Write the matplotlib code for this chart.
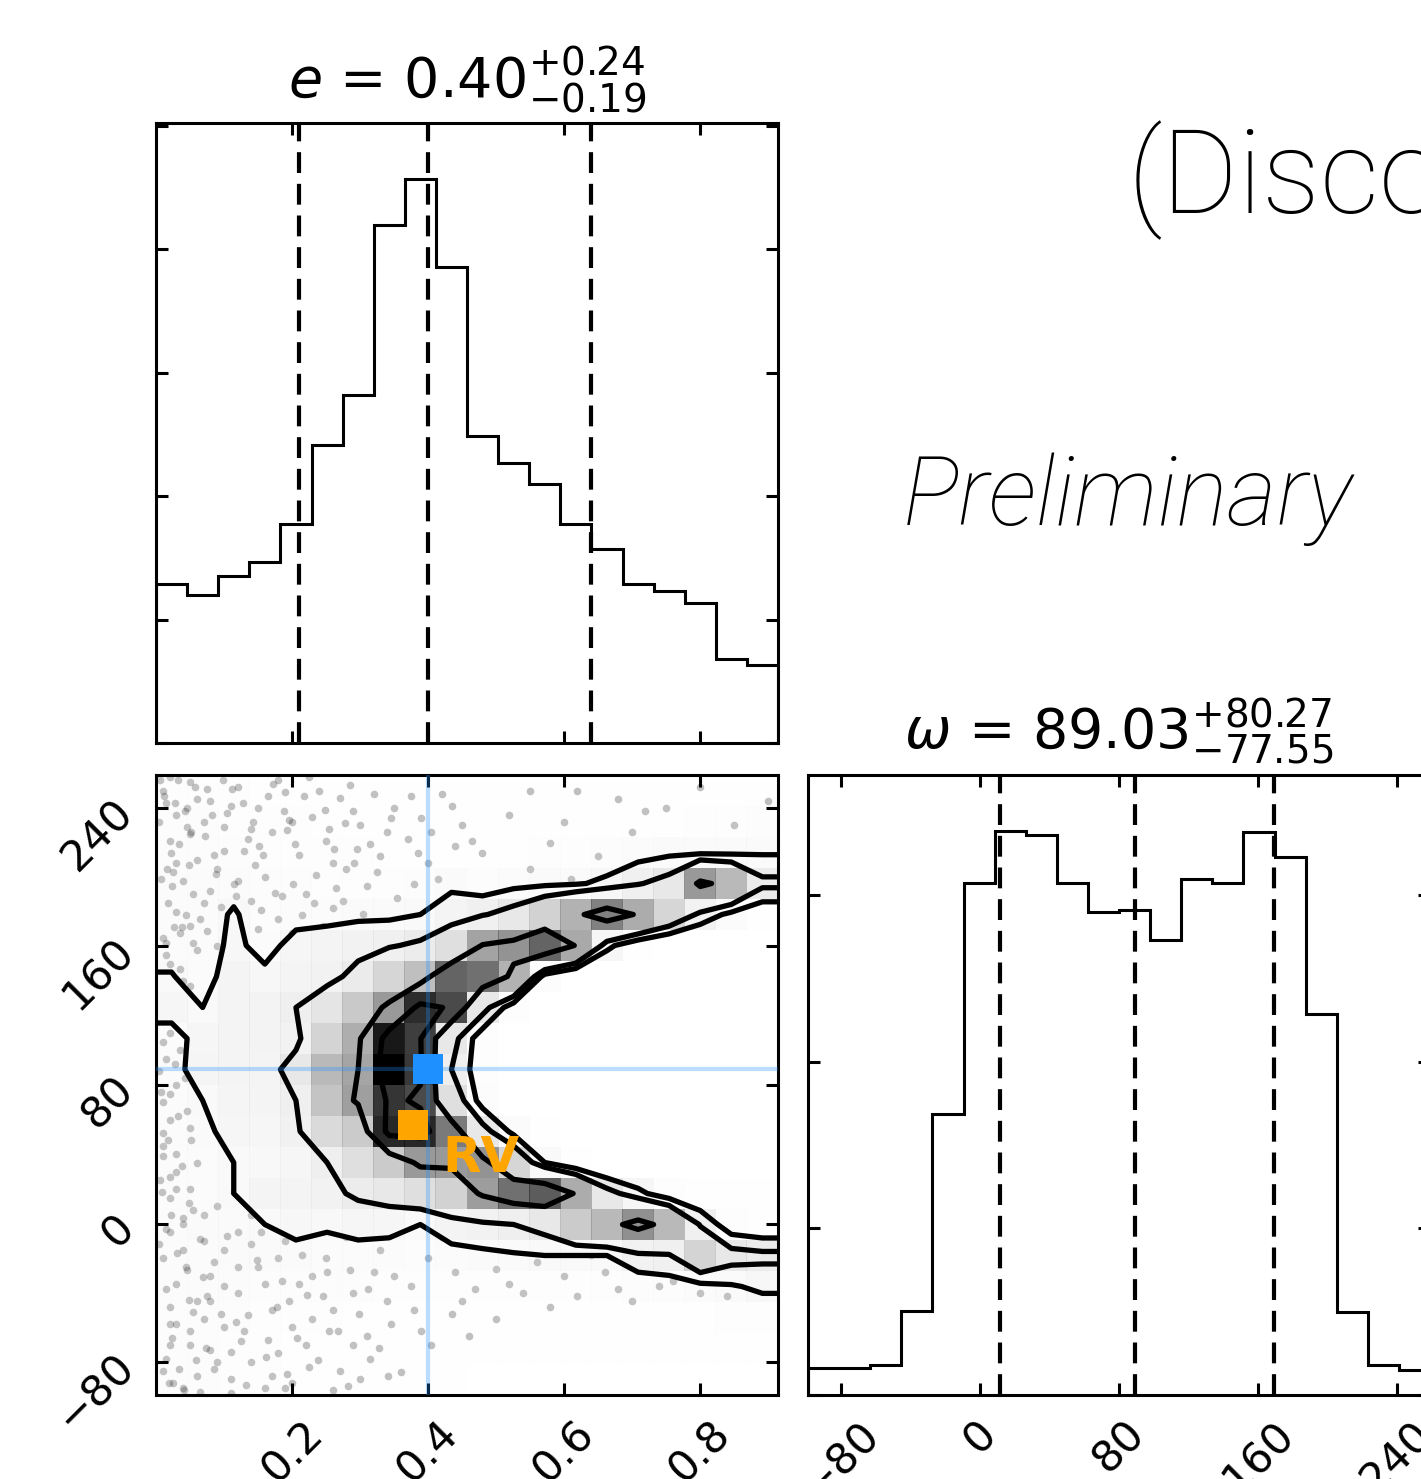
import numpy as np
import matplotlib.pyplot as plt
from matplotlib.colors import LinearSegmentedColormap
from matplotlib.ticker import MaxNLocator, MultipleLocator

# parameter ranges
e_range = [0.0, 0.915]
w_range = [-99.0, 259.0]

# 1d histograms (20 bins each)
e_counts = [1290, 1200, 1350, 1470, 1775, 2410, 2815, 4195, 4565, 3855,
            2485, 2265, 2095, 1775, 1575, 1290, 1235, 1130, 680, 635]
w_counts = [162, 162, 180, 504, 1686, 3072, 3384, 3360, 3072, 2898,
            2910, 2730, 3096, 3072, 3378, 3228, 2286, 498, 180, 150]

e_quantiles = [0.21, 0.40, 0.64]
w_quantiles = [11.48, 89.03, 169.30]
e_title = r"$e$ = ${0.40}_{-0.19}^{+0.24}$"
w_title = r"$\omega$ = ${89.03}_{-77.55}^{+80.27}$"

truth = [0.40, 89.03]
rv_point = [0.378, 57.0]

# 2d histogram e vs omega, rows from top (high omega) to bottom
density = [
    [8, 8, 7, 6, 6, 5, 4, 4, 3, 2, 2, 2, 1, 1, 1, 1, 1, 1, 1, 1],
    [9, 9, 8, 7, 7, 6, 5, 5, 4, 3, 3, 3, 4, 4, 5, 5, 6, 7, 8, 9],
    [10, 10, 10, 8, 8, 7, 7, 6, 6, 5, 5, 6, 7, 8, 9, 11, 13, 13, 13, 14],
    [11, 11, 12, 9, 9, 8, 8, 8, 9, 13, 9, 12, 13, 14, 17, 24, 30, 63, 52, 28],
    [11, 11, 16, 10, 12, 12, 13, 13, 15, 20, 24, 30, 42, 55, 70, 57, 40, 22, 12, 6],
    [12, 11, 17, 12, 18, 20, 22, 24, 27, 35, 60, 65, 78, 58, 18, 6, 0, 0, 0, 0],
    [15.5, 11, 20, 17, 20, 22, 28, 40, 50, 78, 75, 55, 10, 0, 0, 0, 0, 0, 0, 0],
    [18, 15, 20, 21, 25, 32, 46, 63, 91, 84, 30, 8, 0, 0, 0, 0, 0, 0, 0, 0],
    [12, 18, 20, 21, 22, 41, 56, 95, 87, 30, 8, 0, 0, 0, 0, 0, 0, 0, 0, 0],
    [12, 19, 20, 20, 30, 52, 59, 100, 88, 25, 8, 0, 0, 0, 0, 0, 0, 0, 0, 0],
    [11, 15, 19, 20, 25, 48, 61, 89, 84, 35, 10, 0, 0, 0, 0, 0, 0, 0, 0, 0],
    [12, 13, 18, 18, 23, 38, 45, 92, 92, 72, 30, 12, 3, 0, 0, 0, 0, 0, 0, 0],
    [12, 12, 15, 16, 18, 25, 35, 45, 63, 63, 65, 40, 15, 5, 0, 0, 0, 0, 0, 0],
    [12, 12, 15, 20, 20, 22, 27, 30, 35, 42, 62, 75, 80, 57, 30, 18, 8, 4, 2, 2],
    [12, 13, 14, 15, 17, 16, 18, 18, 15, 20, 22, 25, 30, 45, 52, 66, 52, 24, 8, 5],
    [12, 12, 13, 13, 13, 12, 12, 11, 10, 12, 13, 14, 15, 15, 15, 22, 24, 41, 30, 28],
    [11, 11, 11, 10, 10, 9, 9, 8, 7, 7, 7, 7, 7, 7, 8, 9, 10, 12, 14, 17],
    [10, 10, 9, 8, 8, 7, 6, 5, 4, 3, 3, 3, 3, 3, 3, 4, 5, 6, 7, 8],
    [10, 9, 8, 7, 6, 5, 4, 3, 2, 1, 1, 1, 1, 1, 1, 1, 1, 1, 1, 1],
    [10, 9, 8, 7, 6, 5, 4, 3, 2, 1, 0, 0, 0, 0, 0, 0, 0, 0, 0, 0],
]
levels = [15, 25, 59, 86]

# individual samples (only those in the sparse outskirts stay visible)
pts_e = [0.01, 0.03, 0.05, 0.02, 0.06, 0.04, 0.08, 0.10, 0.12, 0.09,
         0.13, 0.15, 0.17, 0.19, 0.16, 0.21, 0.23, 0.25, 0.27, 0.22,
         0.28, 0.30, 0.33, 0.35, 0.31, 0.37, 0.40, 0.42, 0.45, 0.48,
         0.52, 0.55, 0.58, 0.61, 0.03, 0.01, 0.05, 0.07, 0.11, 0.14,
         0.18, 0.02, 0.04, 0.06, 0.26, 0.20, 0.09, 0.65, 0.70, 0.38,
         0.02, 0.07, 0.11, 0.14, 0.18, 0.24, 0.29, 0.34, 0.39, 0.44,
         0.05, 0.08, 0.12, 0.15, 0.03, 0.06, 0.10, 0.20, 0.26, 0.32,
         0.75, 0.85, 0.62, 0.55, 0.68, 0.80, 0.90, 0.60, 0.72,
         0.015, 0.045, 0.075, 0.105, 0.135, 0.165, 0.195, 0.225, 0.255, 0.285,
         0.315, 0.345, 0.375, 0.405, 0.435, 0.465, 0.025, 0.055, 0.085, 0.115,
         0.145, 0.175, 0.205, 0.235, 0.265, 0.295, 0.325, 0.355, 0.385, 0.415,
         0.035, 0.065, 0.095, 0.125, 0.155, 0.185, 0.215, 0.245, 0.275, 0.305,
         0.015, 0.035, 0.055, 0.075, 0.01, 0.03, 0.05,
         0.01, 0.02, 0.015, 0.03, 0.01, 0.02, 0.035, 0.005, 0.005, 0.01,
         0.025, 0.04, 0.02, 0.045, 0.01, 0.03,
         0.012, 0.028, 0.042, 0.008, 0.05, 0.018, 0.038, 0.006, 0.048, 0.022,
         0.033, 0.055,
         0.01, 0.03, 0.02, 0.05, 0.04, 0.07, 0.01, 0.03, 0.06, 0.02,
         0.08, 0.10, 0.12, 0.05, 0.01, 0.04, 0.09, 0.13, 0.15, 0.17,
         0.11, 0.19, 0.21, 0.18, 0.23, 0.25, 0.27, 0.29, 0.31, 0.33,
         0.14, 0.16, 0.07, 0.20, 0.35, 0.38, 0.24, 0.09, 0.06, 0.02,
         0.12, 0.02, 0.06, 0.10, 0.14, 0.08, 0.04, 0.16, 0.22, 0.26,
         0.30, 0.12, 0.18, 0.28, 0.34, 0.03, 0.07,
         0.015, 0.045, 0.075, 0.105, 0.135, 0.165, 0.195, 0.225, 0.255, 0.285,
         0.315, 0.345, 0.375, 0.405, 0.435, 0.02, 0.05, 0.08, 0.11, 0.14,
         0.17, 0.20, 0.23, 0.26, 0.29, 0.32, 0.36, 0.39, 0.025, 0.065,
         0.095, 0.125, 0.155, 0.185, 0.215, 0.245, 0.015, 0.055, 0.085, 0.115,
         0.40, 0.44, 0.48, 0.52, 0.56, 0.60, 0.64, 0.68, 0.72, 0.76,
         0.80, 0.45, 0.58, 0.42, 0.47, 0.50, 0.54, 0.62, 0.66, 0.70,
         0.74, 0.78, 0.84, 0.88, 0.50, 0.46,
         0.004, 0.012, 0.022, 0.032, 0.042, 0.052, 0.008, 0.018, 0.028, 0.038,
         0.048, 0.058, 0.014, 0.024, 0.034, 0.044, 0.006, 0.026, 0.046, 0.016,
         0.072, 0.088, 0.098, 0.118, 0.128, 0.142, 0.158, 0.172, 0.188, 0.202,
         0.218, 0.232, 0.248, 0.262, 0.278, 0.292, 0.082, 0.112, 0.152, 0.192,
         0.004, 0.014, 0.024, 0.034, 0.044, 0.054, 0.064, 0.074, 0.009, 0.019,
         0.029, 0.039, 0.049, 0.059, 0.069, 0.011, 0.021, 0.031, 0.041, 0.051,
         0.085, 0.100, 0.118, 0.133, 0.148, 0.162, 0.178, 0.192, 0.208, 0.222,
         0.238, 0.252, 0.268, 0.282, 0.298, 0.312, 0.328, 0.342, 0.110, 0.190]
pts_w = [250, 236, 255, 221, 210, 198, 244, 229, 252, 205,
         215, 240, 226, 249, 200, 213, 235, 221, 246, 190,
         205, 230, 212, 240, 195, 222, 208, 248, 230, 214,
         236, 205, 220, 199, 180, 165, 172, 185, 178, 186,
         176, 150, 140, 158, 182, 168, 160, 212, 226, 196,
         258, 232, 241, 228, 256, 250, 238, 226, 234, 218,
         225, 192, 198, 170, 208, 245, 215, 232, 208, 248,
         240, 230, 250, 250, 245, 252, 244, 232, 238,
         243, 229, 251, 237, 222, 247, 233, 258, 228, 253,
         219, 234, 247, 226, 241, 221, 203, 190, 213, 196,
         207, 191, 219, 201, 194, 216, 203, 188, 214, 199,
         168, 176, 183, 170, 181, 189, 178, 172, 186, 179,
         155, 147, 162, 169, 133, 122, 137,
         125, 110, 95, 80, 70, 60, 100, 88, 140, 105,
         130, 115, 75, 65, 52, 40,
         117, 92, 84, 76, 55, 48, 33, 25, 12, 5,
         62, 98,
         45, 30, 15, 20, 0, -10, -20, -35, -45, -58,
         -30, -15, -40, -70, -85, -95, -80, -62, -25, -50,
         -90, -10, -35, -75, -55, -20, -85, -40, -65, -15,
         5, -95, -55, -92, -30, -50, -5, 10, 35, -5,
         -5, -70, -88, -60, -80, -45, -15, -35, -70, -50,
         -90, -25, -20, -8, -45, 20, 5,
         -3, -27, -42, -7, -53, -67, -45, -83, -62, -27,
         -78, -58, -36, -70, -52, -48, -62, -73, -98, -12,
         -88, -60, -30, -96, -70, -28, -86, -62, -92, -97,
         -52, -68, -5, -33, -18, -42, -78, 8, -22, 18,
         -20, -28, -12, -35, -22, -30, -18, -38, -25, -33,
         -40, -45, -48, -8, -38, -26, -40, -42, -28, -45,
         -36, -30, -42, -38, -55, -65,
         232, 247, 214, 256, 238, 226, 199, 185, 243, 171,
         207, 252, 162, 195, 219, 178, 256, 171, 240, 205,
         224, 202, 256, 189, 243, 232, 213, 254, 238, 196,
         247, 185, 239, 216, 231, 208, 236, 251, 218, 227,
         -12, -38, -66, -84, -25, -51, -9, -72, 18, -92,
         -58, 3, -44, -79, -31, 39, 27, -17, -96, 48,
         -84, -36, -57, -93, -21, -77, -48, -87, -66, -41,
         -79, -28, -62, -94, -52, -38, -72, -88, -74, -95]

W, H = 1421, 1479
fig = plt.figure(figsize=(W / 100, H / 100), dpi=100)


def box(x0, y0, x1, y1):
    return [x0 / W, 1 - y1 / H, (x1 - x0) / W, (y1 - y0) / H]


ax_e = fig.add_axes(box(156, 123, 778, 743))
ax_2d = fig.add_axes(box(156, 775, 778, 1395))
ax_w = fig.add_axes(box(808, 775, 1430, 1395))

dash = (0, (5, 2.6))

# e histogram
e_edges = np.linspace(e_range[0], e_range[1], len(e_counts) + 1)
ax_e.stairs(e_counts, e_edges, color="k", lw=2.2)
for q in e_quantiles:
    ax_e.axvline(q, color="k", ls=dash, lw=3)
ax_e.set_xlim(e_range)
ax_e.set_ylim(0, 1.1 * max(e_counts))
ax_e.set_title(e_title, fontsize=40, pad=19)

# omega histogram
w_edges = np.linspace(w_range[0], w_range[1], len(w_counts) + 1)
ax_w.stairs(w_counts, w_edges, color="k", lw=2.2)
for q in w_quantiles:
    ax_w.axvline(q, color="k", ls=dash, lw=3)
ax_w.set_xlim(w_range)
ax_w.set_ylim(0, 1.1 * max(w_counts))
ax_w.set_title(w_title, fontsize=40, pad=19)

# 2d panel
Hg = np.array(density, dtype=float)[::-1]
ny, nx = Hg.shape
xe = np.linspace(e_range[0], e_range[1], nx + 1)
ye = np.linspace(w_range[0], w_range[1], ny + 1)
xc = 0.5 * (xe[1:] + xe[:-1])
yc = 0.5 * (ye[1:] + ye[:-1])
X2 = np.concatenate([xc[0] + np.array([-2, -1]) * (xc[1] - xc[0]), xc,
                     xc[-1] + np.array([1, 2]) * (xc[1] - xc[0])])
Y2 = np.concatenate([yc[0] + np.array([-2, -1]) * (yc[1] - yc[0]), yc,
                     yc[-1] + np.array([1, 2]) * (yc[1] - yc[0])])
H2 = Hg.min() + np.zeros((ny + 4, nx + 4))
H2[2:-2, 2:-2] = Hg
H2[2:-2, 1] = Hg[:, 0]
H2[2:-2, -2] = Hg[:, -1]
H2[1, 2:-2] = Hg[0]
H2[-2, 2:-2] = Hg[-1]
H2[1, 1] = Hg[0, 0]
H2[1, -2] = Hg[0, -1]
H2[-2, 1] = Hg[-1, 0]
H2[-2, -2] = Hg[-1, -1]

ax_2d.plot(pts_e, pts_w, "o", color="k", ms=5.5, alpha=0.25, mec="none", zorder=0.5)
ax_2d.contourf(X2, Y2, H2, [levels[0], Hg.max() * 1.01], colors="white",
               antialiased=False, zorder=0.8)
density_cmap = LinearSegmentedColormap.from_list("density", ["k", (1, 1, 1, 0)])
ax_2d.pcolor(xe, ye, Hg.max() - Hg, cmap=density_cmap, zorder=1)
ax_2d.contour(X2, Y2, H2, levels, colors="k", linewidths=3.8, zorder=2)

ax_2d.axvline(truth[0], color="dodgerblue", alpha=0.3, lw=3, zorder=3)
ax_2d.axhline(truth[1], color="dodgerblue", alpha=0.3, lw=3, zorder=3)
ax_2d.plot(*truth, "s", color="dodgerblue", ms=22, mew=0, zorder=4)
ax_2d.plot(*rv_point, "s", color="orange", ms=22, mew=0, zorder=4)
ax_2d.annotate("RV", xy=rv_point, xytext=(21.5, -34), textcoords="offset points",
               color="orange", fontsize=36, fontweight="bold",
               ha="left", va="baseline", zorder=5)
ax_2d.set_xlim(e_range)
ax_2d.set_ylim(w_range)

# ticks
for ax in (ax_e, ax_2d, ax_w):
    ax.tick_params(direction="in", top=True, right=True, length=8.5,
                   width=2.2, labelsize=31)
    ax.tick_params(axis="x", pad=13)
    ax.tick_params(axis="y", pad=10)
    for s in ax.spines.values():
        s.set_linewidth(2.2)

ax_e.xaxis.set_major_locator(MaxNLocator(5, prune="lower"))
ax_e.yaxis.set_major_locator(MultipleLocator(1000))
ax_e.tick_params(labelbottom=False, labelleft=False)

ax_2d.xaxis.set_major_locator(MaxNLocator(5, prune="lower"))
ax_2d.yaxis.set_major_locator(MultipleLocator(80))
plt.setp(ax_2d.get_xticklabels(), rotation=45)
plt.setp(ax_2d.get_yticklabels(), rotation=45)

ax_w.xaxis.set_major_locator(MultipleLocator(80))
ax_w.yaxis.set_major_locator(MultipleLocator(1000))
ax_w.tick_params(labelleft=False)
plt.setp(ax_w.get_xticklabels(), rotation=45)

# annotations in the empty upper-right corner
fig.text(1128 / W, 1 - 213 / H, "(Discovery)", fontsize=84, family="Roboto",
         fontweight="light", ha="left", va="baseline")
fig.text(903 / W, 1 - 525 / H, "Preliminary", fontsize=69, family="Roboto",
         fontweight="light", style="italic", ha="left", va="baseline")

fig.savefig("out.png", dpi=100)
